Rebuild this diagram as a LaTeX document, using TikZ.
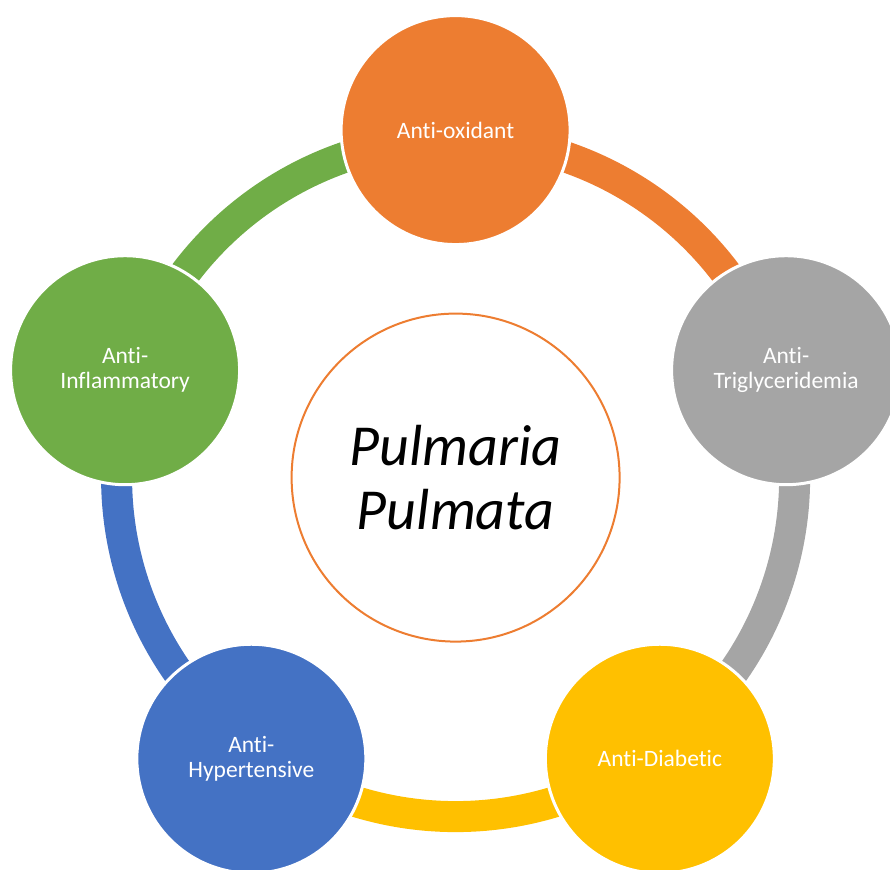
\documentclass[tikz,border=0pt]{standalone}
\usepackage{fontspec}
\setmainfont{Carlito}[Ligatures=NoCommon]
\usetikzlibrary{calc}
\definecolor{cOrange}{HTML}{ED7D31}
\definecolor{cGray}{HTML}{A5A5A5}
\definecolor{cYellow}{HTML}{FFC000}
\definecolor{cBlue}{HTML}{4472C4}
\definecolor{cGreen}{HTML}{70AD47}
\tikzset{
  band/.style={line width=31pt},
  petal/.style={circle, draw=white, line width=3pt, minimum size=229pt, inner sep=0pt,
    text=white, align=center, font=\fontsize{23.5}{25}\selectfont},
  hub/.style={circle, draw=cOrange, line width=2pt, fill=white, minimum size=328pt, inner sep=0pt,
    align=center, font=\fontsize{58}{64}\selectfont\itshape}
}
\begin{document}
\begin{tikzpicture}[x=1pt,y=1pt]
\useasboundingbox (0,0) rectangle (890,869);
\coordinate (c) at (455.6,391.4);
% bands
\draw[band, cOrange] (c) ++(90:339) arc[start angle=90, end angle=18, radius=339];
\draw[band, cGray] (c) ++(18:339) arc[start angle=18, end angle=-54, radius=339];
\draw[band, cYellow] (c) ++(-54:339) arc[start angle=-54, end angle=-126, radius=339];
\draw[band, cBlue] (c) ++(-126:339) arc[start angle=-126, end angle=-198, radius=339];
\draw[band, cGreen] (c) ++(162:339) arc[start angle=162, end angle=90, radius=339];
% nodes
\node[petal, fill=cOrange] (ox) at ($(c)+(90:347.5)$) {Anti-oxidant};
\node[petal, fill=cGray] (tg) at ($(c)+(18:347.5)$) {Anti-\\Triglyceridemia};
\node[petal, fill=cYellow] (db) at ($(c)+(-54:347.5)$) {Anti-Diabetic};
\node[petal, fill=cBlue] (ht) at ($(c)+(-126:347.5)$) {Anti-\\Hypertensive};
\node[petal, fill=cGreen] (inf) at ($(c)+(162:347.5)$) {Anti-\\Inflammatory};
\node[hub] (pp) at (c) {Pulmaria\\Pulmata};
\end{tikzpicture}
\end{document}
